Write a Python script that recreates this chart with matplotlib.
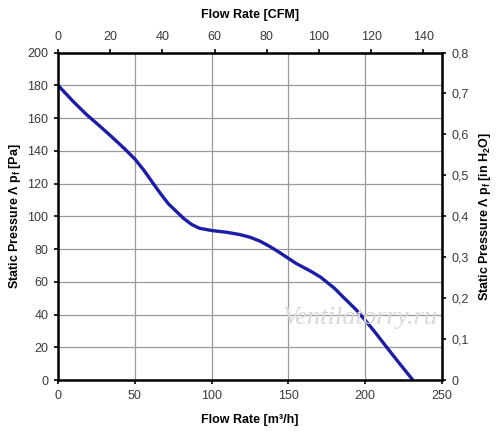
import matplotlib
matplotlib.use("Agg")
import matplotlib.pyplot as plt
from matplotlib.ticker import FuncFormatter, MultipleLocator

plt.rcParams['font.family'] = ['Liberation Sans', 'DejaVu Sans']

# flow rate [m3/h] and static pressure [Pa]
flow = [0, 10, 18.7, 27.3, 35, 43.6, 50, 56, 62, 67, 72, 77, 82, 87, 92, 100,
        110, 118.5, 125, 131.5, 138, 144, 150, 155, 160, 165, 171, 180, 188,
        194, 200, 207, 214, 222, 231]
pressure = [180, 170, 162, 155, 148.5, 141, 135, 128, 120, 113.5, 107.5, 103,
            98.5, 95, 92.7, 91.3, 90.2, 88.8, 87.2, 84.8, 81.5, 78, 74.3, 71.2,
            68.7, 66.2, 62.8, 56, 48.5, 43, 36.5, 28.5, 20, 10.5, 0]

M3H_PER_CFM = 1.699
PA_PER_INH2O = 250.0

fig = plt.figure(figsize=(5.0, 4.34), dpi=100)
ax = fig.add_axes([0.116, 0.1244, 0.768, 0.7546])

ax.plot(flow, pressure, color='#1c1ca8', lw=2.4, solid_capstyle='round',
        solid_joinstyle='round')

ax.set_xlim(0, 250)
ax.set_ylim(0, 200)
ax.xaxis.set_major_locator(MultipleLocator(50))
ax.yaxis.set_major_locator(MultipleLocator(20))
ax.grid(True, color='#9a9a9a', lw=0.9)
ax.set_axisbelow(True)

for s in ax.spines.values():
    s.set_linewidth(1.8)
    s.set_color('black')

tick_kw = dict(direction='out', length=3, width=1.2, labelsize=9,
               labelcolor='#3a3a3a', pad=4)
ax.tick_params(**tick_kw)

ax.set_xlabel('Flow Rate [m³/h]', fontsize=9, fontweight='bold', labelpad=9)
ax.set_ylabel('Static Pressure Λ p$_\\mathregular{f}$ [Pa]', fontsize=9,
              fontweight='bold', labelpad=3)

top = ax.secondary_xaxis('top', functions=(lambda v: v / M3H_PER_CFM,
                                           lambda v: v * M3H_PER_CFM))
top.xaxis.set_major_locator(MultipleLocator(20))
top.tick_params(**tick_kw)
top.set_xlabel('Flow Rate [CFM]', fontsize=9, fontweight='bold', labelpad=9)

right = ax.secondary_yaxis('right', functions=(lambda v: v / PA_PER_INH2O,
                                               lambda v: v * PA_PER_INH2O))
right.yaxis.set_major_locator(MultipleLocator(0.1))
right.yaxis.set_major_formatter(FuncFormatter(
    lambda v, p: '0' if abs(v) < 1e-9 else f'{v:.1f}'.replace('.', ',')))
right.tick_params(**tick_kw)
right.set_ylabel('Static Pressure Λ p$_\\mathregular{f}$ [in H$_\\mathregular{2}$O]',
                 fontsize=9, fontweight='bold', labelpad=6)

ax.text(0.99, 0.19, 'Ventilatorry.ru', transform=ax.transAxes, ha='right',
        va='center', fontsize=19, style='italic', family='Liberation Serif',
        color='#d8d8d8')

fig.savefig('out.png', dpi=100)
